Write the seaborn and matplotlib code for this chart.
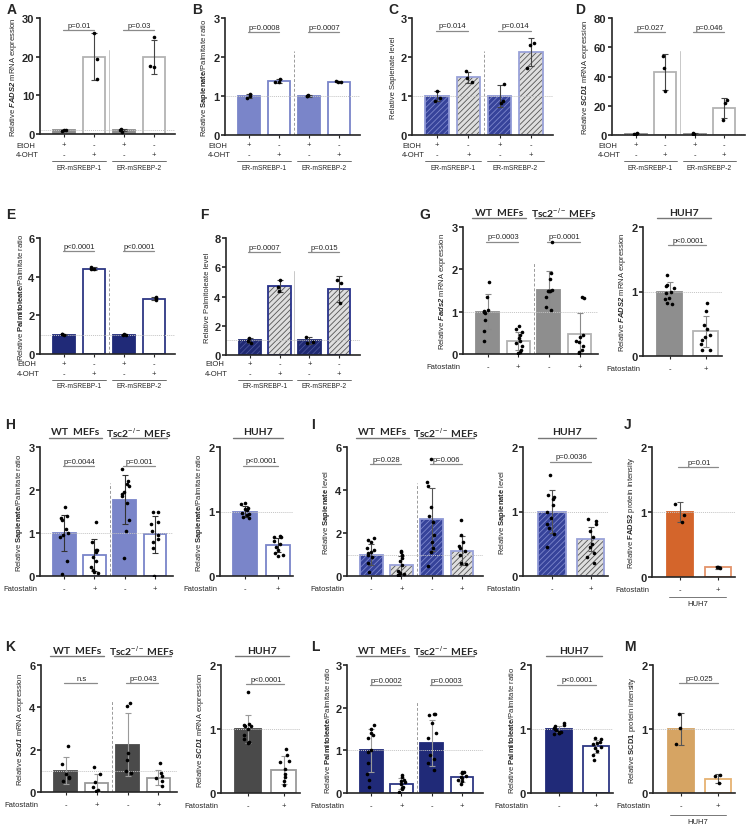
import numpy as np
import pandas as pd
import seaborn as sns
import matplotlib.pyplot as plt
from matplotlib.patches import Rectangle
from matplotlib.transforms import blended_transform_factory

# ---- data ----
cats_er = ['EtOH-1', '4-OHT-1', 'EtOH-2', '4-OHT-2']
cats_mef = ['WT-', 'WT+', 'Tsc2-', 'Tsc2+']
cats_huh = ['HUH7-', 'HUH7+']

a_mean = [1.0, 20.0, 1.0, 19.9]
a_sd = [0.1, 6.0, 0.3, 4.5]
a_pts = [[1.0, 1.1, 0.9], [26.0, 19.5, 14.3], [1.3, 0.6, 1.0], [25.0, 17.6, 17.2]]

b_mean = [1.0, 1.38, 1.0, 1.37]
b_sd = [0.05, 0.05, 0.02, 0.01]
b_pts = [[1.05, 0.95, 1.0], [1.44, 1.35, 1.37], [0.99, 1.02, 1.0], [1.37, 1.36, 1.38]]

c_mean = [1.0, 1.48, 1.0, 2.12]
c_sd = [0.14, 0.14, 0.27, 0.36]
c_pts = [[1.13, 0.96, 0.86], [1.63, 1.45, 1.36], [1.3, 0.82, 0.88], [2.37, 2.3, 1.72]]

d_mean = [0.9, 43.0, 0.9, 18.5]
d_sd = [0.3, 12.5, 0.3, 7.0]
d_pts = [[1.2, 0.7, 0.9], [54.0, 46.0, 30.0], [1.3, 0.8, 0.7], [24.0, 22.0, 10.5]]

e_mean = [1.0, 4.42, 1.0, 2.87]
e_sd = [0.02, 0.07, 0.02, 0.07]
e_pts = [[1.02, 1.0, 1.01], [4.5, 4.4, 4.38], [1.03, 0.98, 1.0], [2.93, 2.8, 2.9]]

f_mean = [1.0, 4.72, 1.0, 4.52]
f_sd = [0.17, 0.38, 0.22, 0.88]
f_pts = [[1.18, 0.85, 0.98], [5.1, 4.65, 4.35], [1.25, 0.85, 0.9], [5.15, 4.9, 3.55]]

g_mean = [1.0, 0.3, 1.51, 0.47]
g_sd = [0.41, 0.21, 0.45, 0.49]
g_pts = [[1.7, 1.35, 1.05, 1.02, 1.0, 0.98, 0.8, 0.55, 0.3],
         [0.65, 0.6, 0.52, 0.45, 0.38, 0.3, 0.25, 0.2, 0.1, 0.05, 0.02],
         [2.65, 1.92, 1.78, 1.52, 1.5, 1.5, 1.48, 1.35, 1.1, 1.05],
         [1.35, 1.32, 0.45, 0.4, 0.3, 0.28, 0.2, 0.1, 0.05, 0.02]]
g2_mean = [1.0, 0.38]
g2_sd = [0.15, 0.24]
g2_pts = [[1.25, 1.1, 1.08, 1.05, 1.0, 0.98, 0.9, 0.88, 0.82, 0.8],
          [0.82, 0.7, 0.48, 0.42, 0.32, 0.3, 0.25, 0.18, 0.1, 0.1]]

h_mean = [1.0, 0.49, 1.77, 0.97]
h_sd = [0.42, 0.37, 0.57, 0.43]
h_pts = [[1.6, 1.4, 1.35, 1.3, 1.1, 1.0, 0.95, 0.9, 0.35, 0.05],
         [1.25, 0.8, 0.6, 0.6, 0.55, 0.45, 0.35, 0.2, 0.15, 0.1, 0.08],
         [2.48, 2.2, 2.15, 2.1, 1.95, 1.9, 1.85, 1.7, 1.3, 1.05, 0.42],
         [1.5, 1.5, 1.25, 1.2, 1.05, 0.95, 0.85, 0.8, 0.65, 0.0]]
h2_mean = [1.0, 0.48]
h2_sd = [0.09, 0.11]
h2_pts = [[1.13, 1.12, 1.05, 1.04, 1.02, 0.98, 0.96, 0.94, 0.92, 0.9],
          [0.62, 0.6, 0.6, 0.55, 0.5, 0.45, 0.4, 0.35, 0.33, 0.31]]

i_mean = [1.0, 0.5, 2.63, 1.18]
i_sd = [0.5, 0.43, 1.45, 0.69]
i_pts = [[1.75, 1.68, 1.6, 1.3, 1.2, 1.1, 1.05, 1.0, 0.9, 0.6, 0.2],
         [1.15, 1.1, 1.0, 0.85, 0.7, 0.5, 0.25, 0.15, 0.1, 0.05, 0.05, 0.0],
         [5.45, 4.35, 4.2, 3.2, 2.8, 2.5, 1.9, 1.6, 1.3, 1.1, 0.45],
         [2.6, 1.9, 1.6, 1.4, 1.3, 1.15, 1.0, 0.6, 0.55]]
i2_mean = [1.0, 0.57]
i2_sd = [0.33, 0.19]
i2_pts = [[1.57, 1.25, 1.22, 1.2, 1.1, 1.0, 0.9, 0.8, 0.75, 0.65, 0.45],
          [0.88, 0.85, 0.8, 0.7, 0.6, 0.5, 0.45, 0.35, 0.3, 0.2]]

j_mean = [1.0, 0.15]
j_sd = [0.15, 0.02]
j_pts = [[1.13, 0.95, 0.85], [0.16, 0.14, 0.15]]

k_mean = [1.0, 0.43, 2.23, 0.67]
k_sd = [0.63, 0.43, 1.48, 0.35]
k_pts = [[2.15, 1.3, 0.85, 0.7, 0.65, 0.5],
         [1.2, 0.85, 0.45, 0.25, 0.1, 0.05],
         [4.2, 4.05, 1.85, 1.5, 1.0, 0.9],
         [1.35, 0.9, 0.75, 0.65, 0.5, 0.3]]
k2_mean = [1.0, 0.36]
k2_sd = [0.22, 0.22]
k2_pts = [[1.58, 1.08, 1.06, 1.05, 1.05, 1.0, 0.9, 0.85, 0.8, 0.78],
          [0.68, 0.6, 0.5, 0.48, 0.38, 0.3, 0.25, 0.18, 0.12]]

l_mean = [1.0, 0.22, 1.17, 0.37]
l_sd = [0.5, 0.13, 0.53, 0.11]
l_pts = [[1.6, 1.5, 1.4, 1.35, 1.3, 1.0, 0.95, 0.7, 0.45, 0.3, 0.15],
         [0.42, 0.38, 0.3, 0.28, 0.25, 0.2, 0.15, 0.12, 0.1, 0.02],
         [1.85, 1.85, 1.82, 1.65, 1.4, 1.3, 0.9, 0.8, 0.7, 0.55],
         [0.5, 0.5, 0.48, 0.4, 0.38, 0.35, 0.3, 0.28, 0.2]]
l2_mean = [1.0, 0.73]
l2_sd = [0.05, 0.1]
l2_pts = [[1.1, 1.06, 1.05, 1.02, 1.0, 0.98, 0.96, 0.95, 0.94, 0.93, 0.92],
          [0.86, 0.84, 0.8, 0.78, 0.76, 0.72, 0.7, 0.65, 0.6, 0.52]]

m_mean = [1.0, 0.22]
m_sd = [0.25, 0.07]
m_pts = [[1.23, 1.02, 0.76], [0.28, 0.26, 0.15]]

# ---- style ----
sns.set_style('ticks')
plt.rcParams['font.family'] = ['Liberation Sans', 'DejaVu Sans']
plt.rcParams['mathtext.fontset'] = 'custom'
plt.rcParams['mathtext.rm'] = 'Liberation Sans'
plt.rcParams['mathtext.it'] = 'Liberation Sans:italic'
plt.rcParams['mathtext.bf'] = 'Liberation Sans:bold'
plt.rcParams['mathtext.bfit'] = 'Liberation Sans:italic:bold'
plt.rcParams['hatch.linewidth'] = 0.6
np.random.seed(3)

W, H = 747, 828
fig = plt.figure(figsize=(W / 100, H / 100), dpi=100)


def add_ax(l, t, r, b):
    return fig.add_axes([l / W, 1 - b / H, (r - l) / W, (b - t) / H])


def fy(y):
    return 1 - y / H


def panel(ax, cats, means, sds, pts, faces, edges, hatchc, yticks, ylabel,
          ecolor='#444444', width=0.75, xlim=(-0.8, 3.7)):
    sns.barplot(x=cats, y=means, hue=cats, order=cats, hue_order=cats,
                palette=faces, saturation=1, legend=False, errorbar=None,
                width=width, ax=ax)
    bars = sorted(ax.patches, key=lambda p: p.get_x())
    for p, ec, hc in zip(bars, edges, hatchc):
        if hc:
            p.set_hatch('//////')
            p.set_edgecolor(hc)
            p.set_linewidth(0)
            ax.add_patch(Rectangle(p.get_xy(), p.get_width(), p.get_height(),
                                   fill=False, edgecolor=ec, lw=1.3, zorder=2.2))
        else:
            p.set_edgecolor(ec)
            p.set_linewidth(1.3)
    ax.axhline(1, color='#c4c4c4', lw=0.7, ls=(0, (1, 1)), zorder=2.5)
    ax.errorbar(np.arange(len(cats)), means, yerr=sds, fmt='none', ecolor=ecolor,
                elinewidth=0.8, capsize=2.5, capthick=0.8, zorder=3)
    df = pd.DataFrame({'cat': [c for c, p in zip(cats, pts) for _ in p],
                       'val': [v for p in pts for v in p]})
    sns.stripplot(data=df, x='cat', y='val', order=cats, color='black', size=2.6,
                  jitter=0.14, ax=ax, zorder=4)
    ax.set_xlim(*xlim)
    ax.set_ylim(0, yticks[-1])
    ax.set_yticks(yticks)
    ax.set_xticks(range(len(cats)))
    ax.set_xticklabels([])
    ax.set_xlabel('')
    ax.set_ylabel(ylabel, fontsize=5.5, labelpad=2)
    sns.despine(ax=ax)
    for s in ['left', 'bottom']:
        ax.spines[s].set_linewidth(1.2)
    ax.tick_params(axis='y', labelsize=8, width=1.2, length=3, pad=1)
    ax.tick_params(axis='x', width=0.8, length=2.5)
    plt.setp(ax.get_yticklabels(), fontweight='bold')


def pval(ax, x0, x1, y, txt):
    ax.plot([x0 - 0.05, x1], [y, y], color='#8a8a8a', lw=0.9, clip_on=False)
    ax.annotate(txt, ((x0 + x1) / 2, y), xytext=(0, 1), textcoords='offset points',
                ha='center', va='bottom', fontsize=5.5, annotation_clip=False)


def sep(ax, color='#9a9a9a', ls=(0, (3, 2))):
    ax.axvline(1.5, ymax=0.72, color=color, lw=0.7, ls=ls, zorder=1)


def er_labels(ax, x_txt, y_row):
    tr = blended_transform_factory(ax.transData, fig.transFigure)
    fig.text(x_txt / W, fy(y_row), 'EtOH', fontsize=5.5, va='center')
    fig.text(x_txt / W, fy(y_row + 10), '4-OHT', fontsize=5.5, va='center')
    for i, (s1, s2) in enumerate(zip(['+', '-', '+', '-'], ['-', '+', '-', '+'])):
        ax.text(i, fy(y_row), s1, transform=tr, ha='center', va='center', fontsize=5.5)
        ax.text(i, fy(y_row + 10), s2, transform=tr, ha='center', va='center', fontsize=5.5)
    for g, name in enumerate(['ER-mSREBP-1', 'ER-mSREBP-2']):
        x0 = 2 * g
        ax.plot([x0 - 0.4, x0 + 1.4], [fy(y_row + 16)] * 2, transform=tr, color='#555555',
                lw=0.6, clip_on=False)
        ax.text(x0 + 0.5, fy(y_row + 22), name, transform=tr, ha='center', va='center',
                fontsize=4.8)


def fato(ax, left_px, axis_px, n):
    tr = blended_transform_factory(ax.transData, fig.transFigure)
    fig.text((left_px - 3) / W, fy(axis_px + 13), 'Fatostatin', fontsize=5.5,
             ha='right', va='center')
    for i in range(n):
        ax.text(i, fy(axis_px + 13), ['-', '+'][i % 2], transform=tr, ha='center',
                va='center', fontsize=5.5)


def headers(ax, top_px, names, spans):
    tr = blended_transform_factory(ax.transData, fig.transFigure)
    for name, (x0, x1) in zip(names, spans):
        ax.plot([x0, x1], [fy(top_px - 9)] * 2, transform=tr, color='#777777', lw=1,
                clip_on=False)
        ax.text((x0 + x1) / 2, fy(top_px - 15), name, transform=tr, ha='center',
                va='center', fontsize=7.5, fontweight='bold', family=['Lato', 'DejaVu Sans'])


def under_huh(ax, y_px):
    tr = blended_transform_factory(ax.transData, fig.transFigure)
    ax.plot([-0.3, 1.2], [fy(y_px)] * 2, transform=tr, color='#777777', lw=0.7, clip_on=False)
    ax.text(0.45, fy(y_px + 7), 'HUH7', transform=tr, ha='center', va='center', fontsize=5.5)


mef_names = ['WT  MEFs', r'Tsc2$^{-/-}$ MEFs']
mef_spans = [(-0.5, 1.25), (1.55, 3.4)]
huh_span = [(-0.35, 1.15)]
xl2 = (-0.75, 1.45)

gray, gray_e = '#8e8e8e', '#b3b3b3'
lav = '#7a85c9'
navy, navy_e = '#202a78', '#2d3784'
dkg, dkg_e = '#4a4a4a', '#9a9a9a'
orng, orng_e = '#d4652b', '#e3936a'
tan, tan_e = '#d6a463', '#e6b272'
hb_face, hb_hatch, hb_edge = '#36439a', '#7d87cc', '#8f98d6'
hw_face, hw_hatch, hw_edge = '#dedede', '#555555', '#9aa2d9'
nb_face, nb_hatch = '#1f2972', '#4a5399'
nw_edge = '#27318a'

# ---- row 1 ----
ax = add_ax(40, 19, 175, 135)
panel(ax, cats_er, a_mean, a_sd, a_pts, [gray, 'white'] * 2, [gray, gray_e] * 2, [None] * 4,
      [0, 10, 20, 30], r'Relative $\mathbfit{FADS2}$ mRNA expression')
sep(ax, '#c8c8c8', '-')
pval(ax, 0, 1, 26.9, 'p=0.01'); pval(ax, 2, 3, 26.9, 'p=0.03')
er_labels(ax, 16, 146)

ax = add_ax(225, 19, 360, 136)
panel(ax, cats_er, b_mean, b_sd, b_pts, [lav, 'white'] * 2, [lav, lav] * 2, [None] * 4,
      [0, 1, 2, 3], r'Relative $\mathbf{Sapienate}$/Palmitate ratio')
sep(ax)
pval(ax, 0, 1, 2.64, 'p=0.0008'); pval(ax, 2, 3, 2.64, 'p=0.0007')
er_labels(ax, 208, 146)

ax = add_ax(412, 19, 553, 136)
panel(ax, cats_er, c_mean, c_sd, c_pts, [hb_face, hw_face] * 2, [hb_edge, hw_edge] * 2,
      [hb_hatch, hw_hatch] * 2, [0, 1, 2, 3], 'Relative Sapienate level')
sep(ax)
pval(ax, 0, 1, 2.67, 'p=0.014'); pval(ax, 2, 3, 2.67, 'p=0.014')
er_labels(ax, 402, 146)

ax = add_ax(612, 19, 745, 136)
panel(ax, cats_er, d_mean, d_sd, d_pts, [gray, 'white'] * 2, [gray, gray_e] * 2, [None] * 4,
      [0, 20, 40, 60, 80], r'Relative $\mathbfit{SCD1}$ mRNA expression')
sep(ax, '#c8c8c8', '-')
pval(ax, 0, 1, 70.4, 'p=0.027'); pval(ax, 2, 3, 70.4, 'p=0.046')
er_labels(ax, 598, 146)

# ---- row 2 ----
ax = add_ax(40, 239, 175, 355)
panel(ax, cats_er, e_mean, e_sd, e_pts, [navy, 'white'] * 2, [navy, navy_e] * 2, [None] * 4,
      [0, 2, 4, 6], r'Relative $\mathbf{Palmitoleate}$/Palmitate ratio')
sep(ax)
pval(ax, 0, 1, 5.33, 'p<0.0001'); pval(ax, 2, 3, 5.33, 'p<0.0001')
er_labels(ax, 17, 365)

ax = add_ax(226, 239, 360, 356)
panel(ax, cats_er, f_mean, f_sd, f_pts, [nb_face, hw_face] * 2, [nb_face, nw_edge] * 2,
      [nb_hatch, hw_hatch] * 2, [0, 2, 4, 6, 8], 'Relative Palmitoleate level')
sep(ax, '#c8c8c8', '-')
pval(ax, 0, 1, 7.05, 'p=0.0007'); pval(ax, 2, 3, 7.05, 'p=0.015')
er_labels(ax, 205, 365)

ax = add_ax(463, 228, 598, 355)
panel(ax, cats_mef, g_mean, g_sd, g_pts, [gray, 'white'] * 2, [gray, gray_e] * 2, [None] * 4,
      [0, 1, 2, 3], r'Relative $\mathbfit{Fads2}$ mRNA expression', ecolor='#8a8a8a',
      xlim=(-0.8, 3.6))
sep(ax)
pval(ax, 0, 1, 2.65, 'p=0.0003'); pval(ax, 2, 3, 2.65, 'p=0.0001')
headers(ax, 228, mef_names, mef_spans)
fato(ax, 463, 355, 4)

ax = add_ax(643, 228, 722, 357)
panel(ax, cats_huh, g2_mean, g2_sd, g2_pts, [gray, 'white'], [gray, gray_e], [None] * 2,
      [0, 1, 2], r'Relative $\mathbfit{FADS2}$ mRNA expression', ecolor='#8a8a8a',
      width=0.7, xlim=xl2)
pval(ax, 0, 1, 1.72, 'p<0.0001')
headers(ax, 228, ['HUH7'], huh_span)
fato(ax, 643, 357, 2)

# ---- row 3 ----
ax = add_ax(40, 448, 173, 577)
panel(ax, cats_mef, h_mean, h_sd, h_pts, [lav, 'white'] * 2, [lav, lav] * 2, [None] * 4,
      [0, 1, 2, 3], r'Relative $\mathbf{Sapienate}$/Palmitate ratio', ecolor='#333333',
      xlim=(-0.8, 3.6))
sep(ax)
pval(ax, 0, 1, 2.56, 'p=0.0044'); pval(ax, 2, 3, 2.56, 'p=0.001')
headers(ax, 448, mef_names, mef_spans)
fato(ax, 40, 577, 4)

ax = add_ax(220, 448, 293, 577)
panel(ax, cats_huh, h2_mean, h2_sd, h2_pts, [lav, 'white'], [lav, lav], [None] * 2,
      [0, 1, 2], r'Relative $\mathbf{Sapienate}$/Palmitate ratio', ecolor='#333333',
      width=0.7, xlim=xl2)
pval(ax, 0, 1, 1.71, 'p<0.0001')
headers(ax, 448, ['HUH7'], huh_span)
fato(ax, 220, 577, 2)

ax = add_ax(347, 448, 483, 577)
panel(ax, cats_mef, i_mean, i_sd, i_pts, [hb_face, hw_face] * 2, [hb_edge, hw_edge] * 2,
      [hb_hatch, hw_hatch] * 2, [0, 2, 4, 6], r'Relative $\mathbf{Sapienate}$ level',
      ecolor='#555555')
sep(ax)
pval(ax, 0, 1, 5.2, 'p=0.028'); pval(ax, 2, 3, 5.2, 'p=0.006')
headers(ax, 448, mef_names, mef_spans)
fato(ax, 347, 577, 4)

ax = add_ax(523, 448, 608, 577)
panel(ax, cats_huh, i2_mean, i2_sd, i2_pts, [hb_face, hw_face], [hb_edge, hw_edge],
      [hb_hatch, hw_hatch], [0, 1, 2], r'Relative $\mathbf{Sapienate}$ level',
      ecolor='#555555', width=0.7, xlim=xl2)
pval(ax, 0, 1, 1.77, 'p=0.0036')
headers(ax, 448, ['HUH7'], huh_span)
fato(ax, 523, 577, 2)

ax = add_ax(652, 448, 735, 578)
panel(ax, cats_huh, j_mean, j_sd, j_pts, [orng, 'white'], [orng, orng_e], [None] * 2,
      [0, 1, 2], r'Relative $\mathbf{FADS2}$ protein intensity', ecolor='#555555',
      width=0.7, xlim=xl2)
pval(ax, 0, 1, 1.69, 'p=0.01')
fato(ax, 652, 578, 2)
under_huh(ax, 598)

# ---- row 4 ----
ax = add_ax(41, 666, 177, 793)
panel(ax, cats_mef, k_mean, k_sd, k_pts, [dkg, 'white'] * 2, [dkg, dkg_e] * 2, [None] * 4,
      [0, 2, 4, 6], r'Relative $\mathbfit{Scd1}$ mRNA expression', ecolor='#9a9a9a',
      xlim=(-0.8, 3.6))
sep(ax)
pval(ax, 0, 1, 5.14, 'n.s'); pval(ax, 2, 3, 5.14, 'p=0.043')
headers(ax, 666, mef_names, mef_spans)
fato(ax, 41, 793, 4)

ax = add_ax(221, 666, 300, 794)
panel(ax, cats_huh, k2_mean, k2_sd, k2_pts, [dkg, 'white'], [dkg, dkg_e], [None] * 2,
      [0, 1, 2], r'Relative $\mathbfit{SCD1}$ mRNA expression', ecolor='#9a9a9a',
      width=0.7, xlim=xl2)
pval(ax, 0, 1, 1.70, 'p<0.0001')
headers(ax, 666, ['HUH7'], huh_span)
fato(ax, 221, 794, 2)

ax = add_ax(347, 666, 483, 794)
panel(ax, cats_mef, l_mean, l_sd, l_pts, [navy, 'white'] * 2, [navy, navy_e] * 2, [None] * 4,
      [0, 1, 2, 3], r'Relative $\mathbf{Palmitoleate}$/Palmitate ratio', ecolor='#9a9a9a')
sep(ax)
pval(ax, 0, 1, 2.53, 'p=0.0002'); pval(ax, 2, 3, 2.53, 'p=0.0003')
headers(ax, 666, mef_names, mef_spans)
fato(ax, 347, 794, 4)

ax = add_ax(531, 666, 613, 794)
panel(ax, cats_huh, l2_mean, l2_sd, l2_pts, [navy, 'white'], [navy, navy_e], [None] * 2,
      [0, 1, 2], r'Relative $\mathbf{Palmitoleate}$/Palmitate ratio', ecolor='#9a9a9a',
      width=0.7, xlim=xl2)
pval(ax, 0, 1, 1.69, 'p<0.0001')
headers(ax, 666, ['HUH7'], huh_span)
fato(ax, 531, 794, 2)

ax = add_ax(653, 666, 735, 794)
panel(ax, cats_huh, m_mean, m_sd, m_pts, [tan, 'white'], [tan, tan_e], [None] * 2,
      [0, 1, 2], r'Relative $\mathbf{SCD1}$ protein intensity', ecolor='#555555',
      width=0.7, xlim=xl2)
pval(ax, 0, 1, 1.72, 'p=0.025')
fato(ax, 653, 794, 2)
under_huh(ax, 816)

# ---- panel letters ----
letters = [('A', 12, 10), ('B', 197, 10), ('C', 393, 10), ('D', 580, 10),
           ('E', 11, 215), ('F', 204, 215), ('G', 425, 215),
           ('H', 10, 425), ('I', 313, 425), ('J', 628, 425),
           ('K', 10, 647), ('L', 315, 647), ('M', 630, 647)]
for t, x, y in letters:
    fig.text(x / W, fy(y), t, fontsize=10, fontweight='bold', ha='center', va='center')

plt.savefig('out.png', dpi=100)
